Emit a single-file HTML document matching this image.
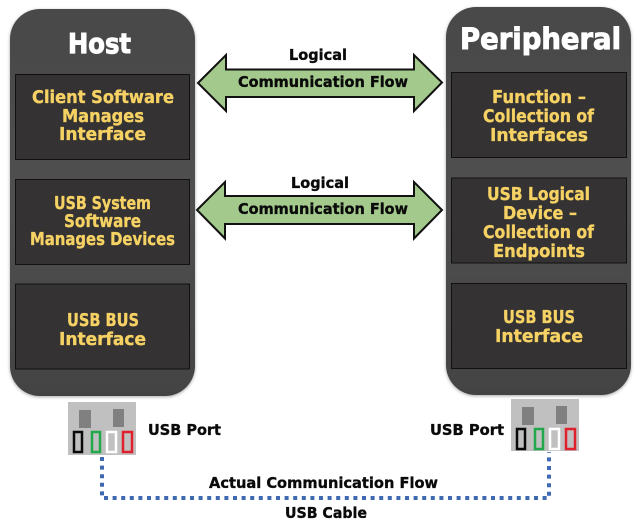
<!DOCTYPE html>
<html><head><meta charset="utf-8"><style>
html,body{margin:0;padding:0;background:#fff;width:640px;height:526px;overflow:hidden}
svg{display:block}
text{font-family:"DejaVu Sans","Liberation Sans",sans-serif;font-weight:bold}
.y{fill:#f6d264;stroke:#f6d264;stroke-width:.35;font-size:17.500px}
.b{fill:#0a0a0a;stroke:#0a0a0a;stroke-width:.35;font-size:15.500px}
.w{fill:#fff;stroke:#fff;stroke-width:1}
.box{fill:#343232;stroke:#111;stroke-width:1}
.arr{fill:#a3c98c;stroke:#111;stroke-width:2;stroke-linejoin:miter}
</style></head><body>
<svg width="640" height="526" viewBox="0 0 640 526" xmlns="http://www.w3.org/2000/svg">
<defs>
<linearGradient id="g" x1="0" y1="0" x2="0" y2="1"><stop offset="0" stop-color="#484848"/><stop offset=".5" stop-color="#505050"/><stop offset="1" stop-color="#434343"/></linearGradient>
<filter id="s" x="-10%" y="-5%" width="120%" height="110%"><feDropShadow dx="0" dy="1" stdDeviation="1.500" flood-color="#000" flood-opacity=".35"/></filter>
</defs>

<rect x="10" y="9" width="185" height="387" rx="30" fill="url(#g)" filter="url(#s)"/>
<rect x="446" y="7" width="185" height="388" rx="30" fill="url(#g)" filter="url(#s)"/>

<rect class="box" x="15.500" y="74.500" width="174" height="85"/>
<rect class="box" x="15.500" y="179.500" width="174" height="85"/>
<rect class="box" x="15.500" y="284" width="174" height="85"/>
<rect class="box" x="451.500" y="72.500" width="175" height="85"/>
<rect class="box" x="451.500" y="178" width="175" height="85"/>
<rect class="box" x="451.500" y="283.500" width="175" height="85"/>

<text class="w" x="68" y="53" font-size="28" textLength="63" lengthAdjust="spacingAndGlyphs">Host</text>
<text class="w" x="460" y="49" font-size="29" textLength="161" lengthAdjust="spacingAndGlyphs">Peripheral</text>

<text class="y" x="32" y="103" textLength="142" lengthAdjust="spacingAndGlyphs">Client Software</text>
<text class="y" x="62" y="122" textLength="82" lengthAdjust="spacingAndGlyphs">Manages</text>
<text class="y" x="59" y="140" textLength="87" lengthAdjust="spacingAndGlyphs">Interface</text>
<text class="y" x="54" y="209" textLength="97" lengthAdjust="spacingAndGlyphs">USB System</text>
<text class="y" x="64" y="227" textLength="77" lengthAdjust="spacingAndGlyphs">Software</text>
<text class="y" x="30" y="245" textLength="145" lengthAdjust="spacingAndGlyphs">Manages Devices</text>
<text class="y" x="67" y="326" textLength="72" lengthAdjust="spacingAndGlyphs">USB BUS</text>
<text class="y" x="59" y="345" textLength="87" lengthAdjust="spacingAndGlyphs">Interface</text>

<text class="y" x="492" y="103" textLength="94" lengthAdjust="spacingAndGlyphs">Function –</text>
<text class="y" x="483" y="122" textLength="111" lengthAdjust="spacingAndGlyphs">Collection of</text>
<text class="y" x="490" y="141" textLength="98" lengthAdjust="spacingAndGlyphs">Interfaces</text>
<text class="y" x="487" y="200" textLength="103" lengthAdjust="spacingAndGlyphs">USB Logical</text>
<text class="y" x="503" y="219" textLength="74" lengthAdjust="spacingAndGlyphs">Device –</text>
<text class="y" x="483" y="238" textLength="111" lengthAdjust="spacingAndGlyphs">Collection of</text>
<text class="y" x="493" y="257" textLength="92" lengthAdjust="spacingAndGlyphs">Endpoints</text>
<text class="y" x="503" y="323" textLength="72" lengthAdjust="spacingAndGlyphs">USB BUS</text>
<text class="y" x="495" y="342" textLength="88" lengthAdjust="spacingAndGlyphs">Interface</text>

<polygon class="arr" points="198,83 226,55 226,69.500 414,69.500 414,55 442,82.500 414,111 414,97 226,97 226,111"/>
<polygon class="arr" points="197,210 225,182 225,196 414,196 414,182 442,210 414,238.500 414,224 225,224 225,238.500"/>

<text class="b" x="289" y="60" textLength="58" lengthAdjust="spacingAndGlyphs">Logical</text>
<text class="b" x="238" y="87" textLength="170" lengthAdjust="spacingAndGlyphs">Communication Flow</text>
<text class="b" x="291" y="188" textLength="58" lengthAdjust="spacingAndGlyphs">Logical</text>
<text class="b" x="238" y="214" textLength="170" lengthAdjust="spacingAndGlyphs">Communication Flow</text>
<text class="b" x="148" y="435" textLength="73" lengthAdjust="spacingAndGlyphs">USB Port</text>
<text class="b" x="430" y="435" textLength="74" lengthAdjust="spacingAndGlyphs">USB Port</text>
<text class="b" x="209" y="488" textLength="229" lengthAdjust="spacingAndGlyphs">Actual Communication Flow</text>
<text class="b" x="285" y="518" textLength="82" lengthAdjust="spacingAndGlyphs">USB Cable</text>

<g>
<rect x="68" y="402" width="68" height="53" fill="#c0c0c0"/>
<rect x="79" y="410" width="12" height="18" fill="#808080"/>
<rect x="113" y="409" width="11" height="18" fill="#808080"/>
<rect x="74" y="432" width="8" height="20" fill="none" stroke="#0a0a0a" stroke-width="2.500"/>
<rect x="92" y="432" width="8" height="20" fill="none" stroke="#22a84a" stroke-width="2.500"/>
<rect x="107" y="432" width="9" height="20" fill="none" stroke="#fff" stroke-width="2.500"/>
<rect x="123" y="432" width="9" height="20" fill="none" stroke="#e0202c" stroke-width="2.500"/>
</g>
<g>
<rect x="511" y="399" width="68" height="52" fill="#c0c0c0"/>
<rect x="522" y="407" width="12" height="18" fill="#808080"/>
<rect x="556" y="406" width="11" height="18" fill="#808080"/>
<rect x="517" y="429" width="8" height="20" fill="none" stroke="#0a0a0a" stroke-width="2.500"/>
<rect x="535" y="429" width="8" height="20" fill="none" stroke="#22a84a" stroke-width="2.500"/>
<rect x="550" y="429" width="9" height="20" fill="none" stroke="#fff" stroke-width="2.500"/>
<rect x="566" y="429" width="9" height="20" fill="none" stroke="#e0202c" stroke-width="2.500"/>
</g>

<polyline points="102,457 102,498 549,498 549,452" fill="none" stroke="#3f69b0" stroke-width="4" stroke-dasharray="4 4.600"/>
</svg>
</body></html>
